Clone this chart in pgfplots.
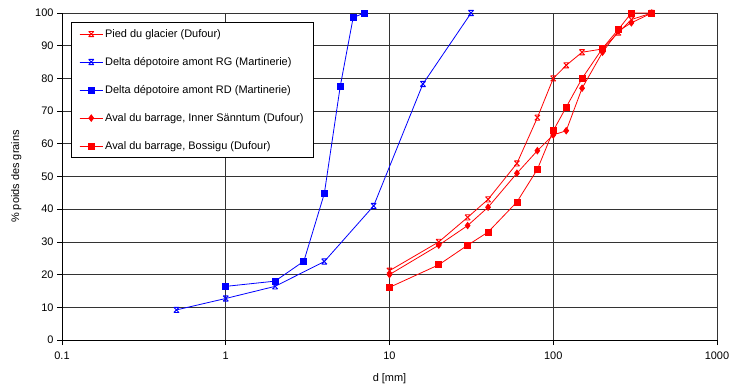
\documentclass[border=0pt]{standalone}
\usepackage{pgfplots}
\pgfplotsset{compat=1.18}
\usepackage{fontspec}
\setmainfont{Liberation Sans}
\pgfdeclareplotmark{xbar}{%
  \pgfpathmoveto{\pgfqpoint{-\pgfplotmarksize}{-\pgfplotmarksize}}%
  \pgfpathlineto{\pgfqpoint{\pgfplotmarksize}{\pgfplotmarksize}}%
  \pgfpathmoveto{\pgfqpoint{-\pgfplotmarksize}{\pgfplotmarksize}}%
  \pgfpathlineto{\pgfqpoint{\pgfplotmarksize}{-\pgfplotmarksize}}%
  \pgfpathmoveto{\pgfqpoint{-\pgfplotmarksize}{\pgfplotmarksize}}%
  \pgfpathlineto{\pgfqpoint{\pgfplotmarksize}{\pgfplotmarksize}}%
  \pgfpathmoveto{\pgfqpoint{-\pgfplotmarksize}{-\pgfplotmarksize}}%
  \pgfpathlineto{\pgfqpoint{\pgfplotmarksize}{-\pgfplotmarksize}}%
  \pgfusepathqstroke}
\begin{document}
\begin{tikzpicture}
\begin{axis}[
  name=ax,
  scale only axis,
  width=655bp, height=327bp,
  xmode=log, log basis x=10,
  xmin=0.1, xmax=1000, ymin=0, ymax=100,
  xtick={0.1,1,10,100,1000},
  xticklabels={0.1,1,10,100,1000},
  ytick={0,10,20,30,40,50,60,70,80,90,100},
  yticklabels={0,10,20,30,40,50,60,70,80,90,100},
  axis x line*=bottom, axis y line*=left,
  axis line style={black, line width=0.7bp, -},
  grid=both,
  major grid style={black!80, line width=0.7bp},
  minor grid style={black!65, line width=0.7bp},
  tick style={black, line width=0.7bp},
  tick align=outside,
  major tick length=5bp, minor tick length=0pt,
  ticklabel style={font=\fontsize{11}{13}\selectfont},
  xticklabel shift=3bp,
  label style={font=\fontsize{11}{13}\selectfont},
  xlabel={d [mm]}, ylabel={\% poids des grains},
  ylabel shift=7bp,
  xlabel shift=7bp,
  legend cell align=left,
  legend style={at={(0,1)}, anchor=north west, xshift=9bp, yshift=-9bp,
    font=\fontsize{11}{13}\selectfont, draw=black, line width=0.7bp,
    row sep=14.5bp, inner xsep=8bp, inner ysep=5bp},
  legend image code/.code={\draw[#1] (0bp,0bp) -- (23bp,0bp); \draw[#1, mark repeat=2, mark phase=2] plot coordinates {(0bp,0bp) (11.5bp,0bp) (23bp,0bp)};},
]
\addplot[red, line width=0.8bp, mark=xbar, mark size=2.6bp, mark options={line width=0.9bp}] coordinates {
 (10,21.2) (20,30) (30,37.5) (40,43) (60,54) (80,68) (100,80) (120,84) (150,88) (200,89) (250,94) (300,98) (400,100)};
\addlegendentry{Pied du glacier (Dufour)}
\addplot[blue, line width=0.8bp, mark=xbar, mark size=2.6bp, mark options={line width=0.9bp}] coordinates {
 (0.5,9.2) (1,12.7) (2,16.4) (4,24) (8,41) (16,78.3) (31.5,100)};
\addlegendentry{Delta dépotoire amont RG (Martinerie)}
\addplot[blue, line width=0.8bp, mark=square*, mark size=3bp] coordinates {
 (1,16.4) (2,18) (3,24.1) (4,44.8) (5,77.5) (6,98.6) (7,100)};
\addlegendentry{Delta dépotoire amont RD (Martinerie)}
\addplot[red, line width=0.8bp, mark=diamond*, mark size=3.2bp] coordinates {
 (10,20) (20,29) (30,35) (40,40.6) (60,51) (80,57.9) (100,62.7) (120,64) (150,77) (200,88) (250,94.5) (300,97) (400,100)};
\addlegendentry{Aval du barrage, Inner Sänntum (Dufour)}
\addplot[red, line width=0.8bp, mark=square*, mark size=3bp] coordinates {
 (10,16.1) (20,23) (30,29) (40,33) (60,42.2) (80,52.2) (100,64) (120,71.2) (150,80) (200,89.2) (250,95) (300,100) (400,100)};
\addlegendentry{Aval du barrage, Bossigu (Dufour)}
\end{axis}
\pgfresetboundingbox
\path ([xshift=-62bp,yshift=-47bp]ax.south west) rectangle ([xshift=18bp,yshift=13bp]ax.north east);
\end{tikzpicture}
\end{document}
